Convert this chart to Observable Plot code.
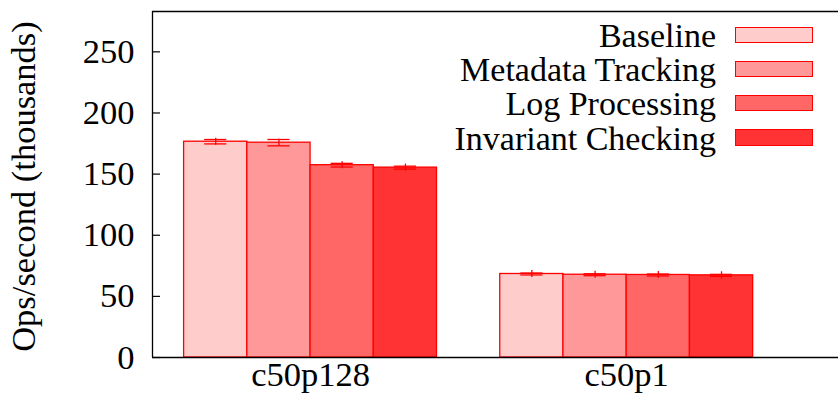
<!DOCTYPE html>
<html><head><meta charset="utf-8">
<script src="https://cdn.jsdelivr.net/npm/d3@7"></script>
<script src="https://cdn.jsdelivr.net/npm/@observablehq/plot@0.6"></script>
<style>
body{margin:0;background:#fff;}
#wrap{position:relative;width:838px;height:394px;font-family:"Liberation Serif","Times New Roman",serif;color:#000;}
.lg-t{position:absolute;font-size:34px;line-height:30px;text-align:right;white-space:nowrap;}
.lg-b{position:absolute;box-sizing:border-box;border:1.3px solid #ff0000;}
</style></head><body><div id="wrap"></div>
<script>
const groups = ["c50p128", "c50p1"];
const series = ["Baseline", "Metadata Tracking", "Log Processing", "Invariant Checking"];
const colors = ["#ffcccc", "#ff9999", "#ff6666", "#ff3333"];
const c50p128 = [176.5, 175.7, 157.3, 155.3];
const c50p1 = [68.3, 67.7, 67.5, 67.2];
const err128 = [1.8, 2.6, 1.5, 1.2];
const err1 = [0.8, 0.8, 0.8, 0.8];
const yTicks = [0, 50, 100, 150, 200, 250];
const yLabel = "Ops/second (thousands)";

const values = [c50p128, c50p1];
const errs = [err128, err1];
const nS = series.length;
const slot = 1 / (nS + 1);
const rows = [];
groups.forEach((g, gi) => {
  series.forEach((s, si) => {
    const x1 = gi - (nS * slot) / 2 + si * slot;
    rows.push({group: g, series: s, x1, x2: x1 + slot, xc: x1 + slot / 2, v: values[gi][si], e: errs[gi][si]});
  });
});
const xMin = -0.5, xMax = 1.67, yMax = 283;
const capHalf = 0.035, minWhisk = 2.9;
const fs = 34.5;

const chart = Plot.plot({
  width: 838, height: 394,
  marginLeft: 152, marginRight: 0, marginTop: 11, marginBottom: 37,
  style: {fontFamily: '"Liberation Serif","Times New Roman",serif', fontSize: fs + "px", background: "#fff", color: "#000", overflow: "visible"},
  x: {domain: [xMin, xMax], axis: null},
  y: {domain: [0, yMax], axis: null},
  color: {domain: series, range: colors},
  marks: [
    Plot.rectY(rows, {x1: "x1", x2: "x2", y: "v", fill: "series", stroke: "#ff0000", strokeWidth: 1.3}),
    Plot.ruleX(rows, {x: "xc", y1: d => d.v - Math.max(d.e, minWhisk), y2: d => d.v + Math.max(d.e, minWhisk), stroke: "#ff0000", strokeWidth: 1.3}),
    Plot.ruleY(rows, {y: d => d.v + d.e, x1: d => d.xc - capHalf, x2: d => d.xc + capHalf, stroke: "#ff0000", strokeWidth: 1.3}),
    Plot.ruleY(rows, {y: d => d.v - d.e, x1: d => d.xc - capHalf, x2: d => d.xc + capHalf, stroke: "#ff0000", strokeWidth: 1.3}),
    Plot.ruleY([0, yMax], {stroke: "#000", strokeWidth: 1.3}),
    Plot.ruleX([xMin], {stroke: "#000", strokeWidth: 1.3}),
    Plot.axisY({ticks: yTicks, tickSize: 8, dx: 8, fill: "none", stroke: "#000", strokeWidth: 1.2, label: null}),
    Plot.axisY({ticks: yTicks, tickSize: 0, tickPadding: 18, stroke: "none", fill: "#000", label: null, fontSize: fs}),
    Plot.axisX({ticks: [0, 1], tickFormat: i => groups[i], tickSize: 0, tickPadding: 4, fill: "#000", label: null, fontSize: fs}),
    Plot.text([yLabel], {text: d => d, frameAnchor: "left", textAnchor: "middle", rotate: -90, dx: -129, dy: 2, fontSize: fs, fill: "#000"})
  ]
});
const wrap = document.getElementById("wrap");
wrap.appendChild(chart);
series.forEach((s, i) => {
  const t = document.createElement("div");
  t.className = "lg-t";
  t.textContent = s;
  t.style.right = "122px";
  t.style.top = (21.2 + 34.1 * i) + "px";
  wrap.appendChild(t);
  const b = document.createElement("div");
  b.className = "lg-b";
  b.style.left = "735px";
  b.style.top = (26.7 + 34.1 * i) + "px";
  b.style.width = "78px";
  b.style.height = "16.6px";
  b.style.background = colors[i];
  wrap.appendChild(b);
});
</script></body></html>
